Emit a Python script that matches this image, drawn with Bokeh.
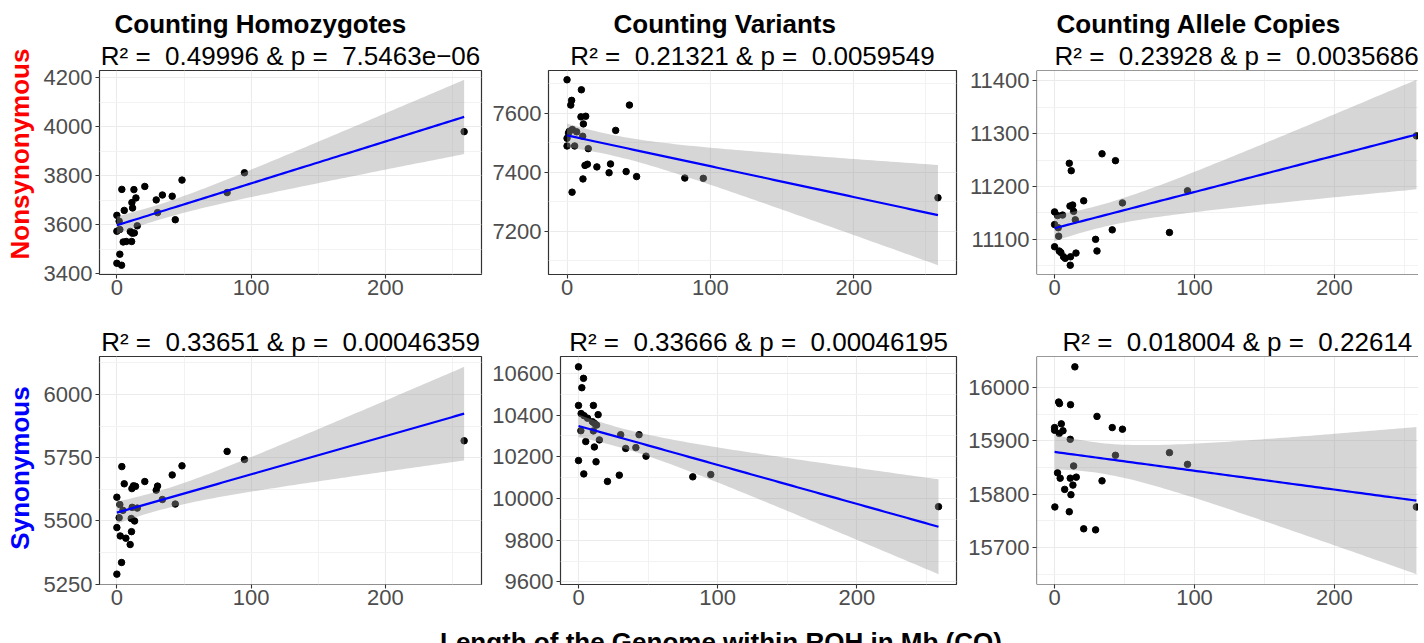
import numpy as np
from bokeh.plotting import figure
from bokeh.layouts import column, row
from bokeh.models import Range1d, FixedTicker, Title, Div, Span
from bokeh.embed import file_html
from bokeh.resources import INLINE

FONT = "Liberation Sans"
NB = "\u00a0"

# ---------------- text ----------------
col_titles = ["Counting Homozygotes", "Counting Variants", "Counting Allele Copies"]
row_titles = ["Nonsynonymous", "Synonymous"]
row_colors = ["#FF0000", "#0000FF"]
r2_values = [["0.49996", "0.21321", "0.23928"],
             ["0.33651", "0.33666", "0.018004"]]
p_values = [["7.5463e−06", "0.0059549", "0.0035686"],
            ["0.00046359", "0.00046195", "0.22614"]]
x_label = "Length of the Genome within ROH in Mb (CO)"

x_ticks = [0, 100, 200]
x_minor = [50, 150, 250]

# ---------------- data ----------------
hom_nonsyn_x = [0, 0, 1.7, 2.2, 0, 3.5, 2.2, 3.7, 5.5, 4.7, 7.0, 11.0, 10.0, 11.5, 13.0,
                15.2, 11.2, 11.7, 12.7, 14.2, 20.8, 29.3, 30.3, 33.9, 41.2, 43.5, 48.5,
                82.1, 95.0, 258.6]
hom_nonsyn_y = [3638, 3573, 3614, 3580, 3442, 3434, 3479, 3744, 3658, 3529, 3531, 3531,
                3572, 3565, 3566, 3595, 3690, 3668, 3743, 3709, 3756, 3701, 3649, 3721,
                3716, 3620, 3782, 3731, 3812, 3980]
hom_nonsyn_yticks = [3400, 3600, 3800, 4000, 4200]
hom_nonsyn_yminor = [3500, 3700, 3900, 4100]

var_nonsyn_x = [0, 0, 0, 3.2, 2.6, 10.0, 9.7, 13.0, 11.4, 1.6, 3.7, 6.7, 1.0, 10.9, 5.3,
                14.8, 12.5, 14.2, 11.1, 3.5, 20.8, 29.3, 30.3, 33.9, 41.2, 43.5, 48.5,
                82.1, 95.0, 258.6]
var_nonsyn_y = [7714, 7515, 7489, 7644, 7628, 7680, 7588, 7590, 7564, 7539, 7545, 7537,
                7533, 7522, 7489, 7480, 7423, 7427, 7377, 7332, 7418, 7398, 7428, 7542,
                7402, 7628, 7385, 7380, 7379, 7313]
var_nonsyn_yticks = [7200, 7400, 7600]
var_nonsyn_yminor = [7100, 7300, 7500, 7700]

all_nonsyn_x = [0, 2.1, 5.7, 0, 2.6, 2.9, 0, 3.3, 4.5, 6.4, 7.6, 11.4, 15.3, 11.2, 10.5,
                11.9, 11.0, 12.9, 13.6, 14.8, 20.8, 29.3, 30.3, 33.9, 41.2, 43.5, 48.5,
                82.1, 95.0, 258.6]
all_nonsyn_y = [11152, 11145, 11146, 11128, 11122, 11106, 11086, 11078, 11075, 11067,
                11064, 11067, 11074, 11051, 11244, 11230, 11163, 11165, 11153, 11137,
                11173, 11100, 11078, 11262, 11118, 11249, 11169, 11113, 11192, 11296]
all_nonsyn_yticks = [11100, 11200, 11300, 11400]
all_nonsyn_yminor = [11050, 11150, 11250, 11350]

hom_syn_x = [0, 2.2, 1.7, 0, 2.5, 6.7, 9.9, 10.9, 3.5, 0, 3.7, 5.5, 4.5, 11.2, 12.4, 13.9,
             11.4, 15.2, 10.7, 13.2, 20.8, 29.3, 30.3, 33.9, 41.2, 43.5, 48.5, 82.1,
             95.0, 258.6]
hom_syn_y = [5594, 5565, 5513, 5474, 5441, 5432, 5407, 5458, 5336, 5290, 5715, 5647, 5542,
             5628, 5639, 5637, 5554, 5551, 5510, 5500, 5656, 5622, 5638, 5585, 5682, 5567,
             5718, 5775, 5743, 5817]
hom_syn_yticks = [5250, 5500, 5750, 6000]
hom_syn_yminor = [5375, 5625, 5875, 6125]

var_syn_x = [0, 3.6, 2.4, 0, 10.7, 14.1, 1.9, 4.0, 6.5, 10.0, 11.5, 13.0, 1.7, 10.7, 15.0,
             5.2, 11.4, 12.6, 0, 3.8, 20.8, 29.3, 30.3, 33.9, 41.2, 43.5, 48.5, 82.1,
             95.0, 258.6]
var_syn_y = [10631, 10576, 10531, 10446, 10446, 10402, 10407, 10397, 10385, 10368, 10360,
             10352, 10325, 10324, 10281, 10273, 10247, 10176, 10182, 10118, 10082, 10112,
             10306, 10240, 10244, 10306, 10203, 10104, 10115, 9961]
var_syn_yticks = [9600, 9800, 10000, 10200, 10400, 10600]
var_syn_yminor = [9700, 9900, 10100, 10300, 10500]

all_syn_x = [14.5, 2.9, 3.5, 11.4, 0, 0, 4.8, 6.0, 3.3, 11.2, 13.6, 2.1, 4.0, 11.2, 15.5,
             13.1, 7.2, 11.7, 0.2, 10.5, 20.8, 29.3, 30.3, 33.9, 41.2, 43.5, 48.5, 82.1,
             95.0, 258.6]
all_syn_y = [16039, 15973, 15970, 15968, 15925, 15920, 15932, 15919, 15914, 15903, 15853,
             15840, 15830, 15830, 15832, 15817, 15809, 15799, 15776, 15767, 15735, 15733,
             15946, 15825, 15925, 15873, 15922, 15878, 15856, 15776]
all_syn_yticks = [15700, 15800, 15900, 16000]
all_syn_yminor = [15650, 15750, 15850, 15950]

T_975 = 2.048  # t quantile, df = 28
RIGHT_CROP = 382.0 / 398.0  # right column panels are cut off at the page edge

LABEL_W = 30
ROW_H = [304, 300]
TOTAL_W = 1408


def stat_text(r2, pv):
    return "R² =" + NB + " " + r2 + " & p =" + NB + " " + pv


def panel(x, y, yticks, yminor, subtitle, fw, fh, mbl, mbr, mbt, mbb,
          col_title=None, col_off=0, sub_off=None, cropped=False):
    x = np.asarray(x, float)
    y = np.asarray(y, float)
    n = len(x)
    slope, icpt = np.polyfit(x, y, 1)
    xs = np.linspace(x.min(), x.max(), 80)
    fit = icpt + slope * xs
    resid = y - (icpt + slope * x)
    s = np.sqrt(np.sum(resid ** 2) / (n - 2))
    sxx = np.sum((x - x.mean()) ** 2)
    se = s * np.sqrt(1.0 / n + (xs - x.mean()) ** 2 / sxx)
    lo = fit - T_975 * se
    hi = fit + T_975 * se

    xpad = 0.05 * (x.max() - x.min())
    x0, x1 = x.min() - xpad, x.max() + xpad
    if cropped:
        x1 = x0 + (x1 - x0) * RIGHT_CROP
    ylo = min(y.min(), lo.min())
    yhi = max(y.max(), hi.max())
    ypad = 0.05 * (yhi - ylo)
    y0, y1 = ylo - ypad, yhi + ypad

    p = figure(frame_width=fw, frame_height=fh,
               x_range=Range1d(x0, x1), y_range=Range1d(y0, y1),
               output_backend="svg", toolbar_location=None, tools="",
               min_border_left=mbl, min_border_right=mbr,
               min_border_top=mbt, min_border_bottom=mbb,
               background_fill_color="white", border_fill_color="white")
    if cropped:
        p.outline_line_color = None
        for loc, dim in ((x0, "height"), (y0, "width"), (y1, "width")):
            p.add_layout(Span(location=loc, dimension=dim, line_color="#333333",
                              line_width=1.2))
    else:
        p.outline_line_color = "#333333"
        p.outline_line_width = 1.2

    p.xaxis.ticker = FixedTicker(ticks=x_ticks, minor_ticks=x_minor)
    p.yaxis.ticker = FixedTicker(ticks=yticks, minor_ticks=yminor)
    for ax in (p.xaxis[0], p.yaxis[0]):
        ax.axis_line_color = None
        ax.major_tick_line_color = "#333333"
        ax.major_tick_line_width = 1.1
        ax.major_tick_out = 4
        ax.major_tick_in = 0
        ax.minor_tick_line_color = None
        ax.major_label_text_font = FONT
        ax.major_label_text_font_size = "22px"
        ax.major_label_text_color = "#4D4D4D"
    p.yaxis[0].major_label_standoff = 3
    p.xaxis[0].major_label_standoff = 1
    for g in (p.xgrid[0], p.ygrid[0]):
        g.grid_line_color = "#EBEBEB"
        g.grid_line_width = 1.1
        g.minor_grid_line_color = "#F2F2F2"
        g.minor_grid_line_width = 1

    p.scatter(x, y, size=6.5, color="black")
    p.varea(x=xs, y1=lo, y2=hi, fill_color="#999999", fill_alpha=0.4)
    p.line(xs, fit, line_color="#0000FF", line_width=2.2)

    sub_align = "center" if sub_off is None else "left"
    sub_offset = 0 if sub_off is None else sub_off
    if col_title is None:
        p.title.text = subtitle
        p.title.align = sub_align
        p.title.offset = sub_offset
        p.title.text_font = FONT
        p.title.text_font_size = "26px"
        p.title.text_font_style = "normal"
        p.title.text_color = "black"
        p.title.standoff = 0
    else:
        p.title.text = col_title
        p.title.align = "left"
        p.title.offset = col_off
        p.title.text_font = FONT
        p.title.text_font_size = "26px"
        p.title.text_font_style = "bold"
        p.title.text_color = "black"
        p.title.standoff = 0
        p.add_layout(Title(text=subtitle, align=sub_align, offset=sub_offset,
                           text_font=FONT, text_font_size="26px",
                           text_font_style="normal", text_color="black",
                           standoff=0), "above")
    return p


def row_label(text, color, h, cx, cy):
    html = ('<div style="position:relative;width:%dpx;height:%dpx;">'
            '<div style="position:absolute;left:%dpx;top:%dpx;'
            'transform:translate(-50%%,-50%%) rotate(-90deg);white-space:nowrap;'
            'font-family:\'Liberation Sans\';font-size:26px;font-weight:bold;'
            'line-height:26px;color:%s;">%s</div></div>') % (LABEL_W, h, cx, cy, color, text)
    return Div(text=html, width=LABEL_W, height=h)


lab1 = row_label(row_titles[0], row_colors[0], ROW_H[0], 15, 149)
lab2 = row_label(row_titles[1], row_colors[1], ROW_H[1], 15, 149)

p1 = panel(hom_nonsyn_x, hom_nonsyn_y, hom_nonsyn_yticks, hom_nonsyn_yminor,
           stat_text(r2_values[0][0], p_values[0][0]), 382, 204, 59, 5, 70, 30,
           col_title=col_titles[0], col_off=15)
p2 = panel(var_nonsyn_x, var_nonsyn_y, var_nonsyn_yticks, var_nonsyn_yminor,
           stat_text(r2_values[0][1], p_values[0][1]), 408, 204, 62, 5, 70, 30,
           col_title=col_titles[1], col_off=65)
p3 = panel(all_nonsyn_x, all_nonsyn_y, all_nonsyn_yticks, all_nonsyn_yminor,
           stat_text(r2_values[0][2], p_values[0][2]), 382, 204, 75, 0, 70, 30,
           col_title=col_titles[2], col_off=20, sub_off=18, cropped=True)
p4 = panel(hom_syn_x, hom_syn_y, hom_syn_yticks, hom_syn_yminor,
           stat_text(r2_values[1][0], p_values[1][0]), 382, 228, 59, 5, 42, 30)
p5 = panel(var_syn_x, var_syn_y, var_syn_yticks, var_syn_yminor,
           stat_text(r2_values[1][1], p_values[1][1]), 396, 228, 74, 5, 42, 30)
p6 = panel(all_syn_x, all_syn_y, all_syn_yticks, all_syn_yminor,
           stat_text(r2_values[1][2], p_values[1][2]), 382, 228, 75, 0, 42, 30,
           sub_off=26, cropped=True)

xlab = Div(text=('<div style="font-family:\'Liberation Sans\';font-size:26px;'
                 'font-weight:bold;line-height:26px;color:black;'
                 'margin-left:435px;white-space:nowrap;">' + x_label + '</div>'),
           width=TOTAL_W, height=26)

layout = column(row(lab1, p1, p2, p3), row(lab2, p4, p5, p6), xlab)
open("out.html", "w").write(file_html(layout, INLINE))
